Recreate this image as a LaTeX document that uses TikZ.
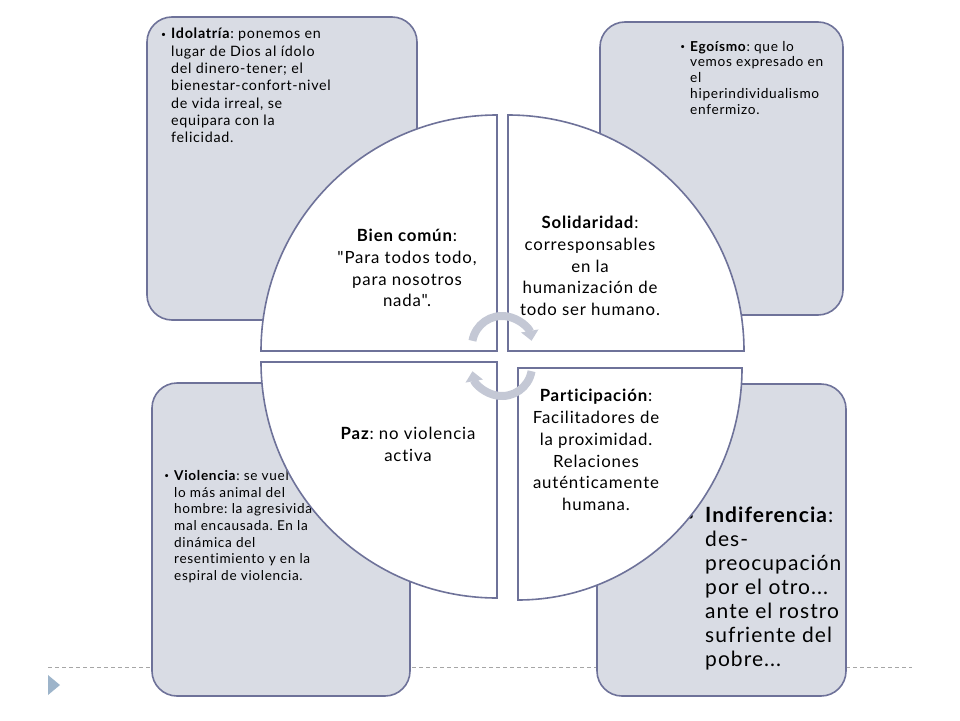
\documentclass[tikz,border=0pt]{standalone}
\usepackage{fontspec}
\setmainfont{Lato}[LetterSpace=5, Ligatures={NoCommon,TeXOff}]
\usetikzlibrary{arrows.meta}
\definecolor{boxfill}{HTML}{D9DCE4}
\definecolor{boxline}{HTML}{6E7299}
\definecolor{cyclegray}{HTML}{C4C8D5}
\definecolor{rulegray}{HTML}{A6A6A6}
\definecolor{markblue}{HTML}{9DB4CA}
\newcommand{\itembullet}[1][5pt]{\llap{\raisebox{0.12em}{\scalebox{0.6}{\textbullet}}\hspace{#1}}}
\frenchspacing

\begin{document}
\begin{tikzpicture}[x=1pt,y=-1pt,
  card/.style = {draw=boxline, fill=boxfill, line width=1.6pt, rounded corners=25pt},
  quarter/.style = {draw=boxline, fill=white, line width=1.6pt},
  note/.style = {anchor=north west, align=left, inner sep=0pt},
  core/.style = {align=center, inner sep=0pt, font=\fontsize{16.8}{21.8}\selectfont},
  turnarrow/.style = {draw=cyclegray, line width=8pt, -{Triangle[length=10pt,width=17pt]}}]
\useasboundingbox (0,0) rectangle (960,720);
\draw[rulegray, line width=0.8pt, dash pattern=on 4pt off 3pt] (48,667) -- (912,667);
\fill[markblue] (48,675) -- (60,685) -- (48,695) -- cycle;

\draw[card] (147,17) rectangle (417,320);
\draw[card] (600,22) rectangle (843,315);
\draw[card] (152,383) rectangle (410,696);
\draw[card] (597,384) rectangle (846,696);

\node[note, font=\fontsize{14.3}{17.3}\selectfont] (idol) at (171,28)
  {\itembullet\textbf{Idolatría}: ponemos en\\lugar de Dios al ídolo\\del dinero-tener; el\\bienestar-confort-nivel\\de vida irreal, se\\equipara con la\\felicidad.};
\node[note, font=\fontsize{13.7}{15.7}\selectfont] (ego) at (690,41)
  {\itembullet\textbf{Egoísmo}: que lo\\vemos expresado en\\el\\hiperindividualismo\\enfermizo.};
\node[note, font=\fontsize{13.6}{16.7}\selectfont] (viol) at (174,470)
  {\itembullet\textbf{Violencia}: se vuelve\\lo más animal del\\hombre: la agresividad\\mal encausada. En la\\dinámica del\\resentimiento y en la\\espiral de violencia.};
\node[note, font=\fontsize{21}{24}\selectfont] (indif) at (705,507)
  {\itembullet[11pt]\textbf{Indiferencia}:\\des-\\preocupación\\por el otro...\\ante el rostro\\sufriente del\\pobre...};

\draw[quarter] (497,351) -- (261,351) arc[start angle=180, end angle=270, radius=236] -- cycle;
\draw[quarter] (508,351) -- (508,115) arc[start angle=270, end angle=360, radius=236] -- cycle;
\draw[quarter] (497,362) -- (497,598) arc[start angle=90, end angle=180, radius=236] -- cycle;
\draw[quarter] (518,368) -- (742,368) arc[start angle=0, end angle=90, x radius=224, y radius=232] -- cycle;

\node[core] (bien) at (407,268) {\textbf{Bien común}:\\"Para todos todo,\\para nosotros\\nada".};
\node[core] (soli) at (590,266) {\textbf{Solidaridad}:\\corresponsables\\en la\\humanización de\\todo ser humano.};
\node[core] (part) at (596,450) {\textbf{Participación}:\\Facilitadores de\\la proximidad.\\Relaciones\\auténticamente\\humana.};
\node[core] (paz) at (408,444) {\textbf{Paz}: no violencia\\activa};

\draw[turnarrow] (502,346) ++(190:30) arc[start angle=190, end angle=350, radius=30];
\draw[turnarrow] (502,366) ++(10:30) arc[start angle=10, end angle=170, radius=30];
\end{tikzpicture}
\end{document}
